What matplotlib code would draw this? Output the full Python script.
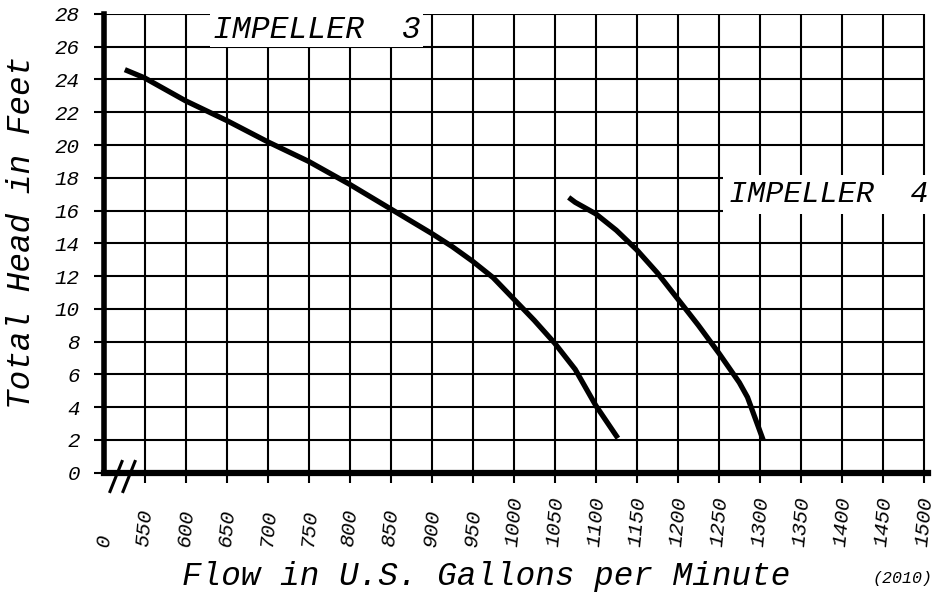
import matplotlib
matplotlib.use("Agg")
import matplotlib.pyplot as plt
import matplotlib.transforms as mtransforms

# Flow (US gpm) and total head (ft)
impeller3_flow = [526, 550, 600, 650, 700, 750, 800, 850, 900, 925, 950, 975, 1000, 1025, 1050, 1075, 1100, 1127]
impeller3_head = [24.6, 24.1, 22.7, 21.5, 20.2, 19.0, 17.6, 16.1, 14.6, 13.8, 12.9, 11.9, 10.6, 9.3, 7.9, 6.3, 4.1, 2.1]

impeller4_flow = [1067, 1075, 1100, 1125, 1150, 1175, 1200, 1225, 1250, 1275, 1285, 1304]
impeller4_head = [16.8, 16.5, 15.8, 14.8, 13.6, 12.2, 10.6, 9.0, 7.3, 5.5, 4.6, 2.0]

flow_ticks = [550, 600, 650, 700, 750, 800, 850, 900, 950, 1000, 1050, 1100,
              1150, 1200, 1250, 1300, 1350, 1400, 1450, 1500]
head_ticks = [0, 2, 4, 6, 8, 10, 12, 14, 16, 18, 20, 22, 24, 26, 28]

FONT = "Liberation Mono"


def main():
    fig = plt.figure(figsize=(9.35, 5.92), dpi=100)
    ax = fig.add_axes([0.1107, 0.2017, 0.8818, 0.7747])
    ax.set_xlim(500, 1505)
    ax.set_ylim(0, 28)

    # grid drawn as explicit lines so it stops at 1500 / 28
    ax.vlines(flow_ticks, 0, 28, color="black", lw=1.5, zorder=1)
    ax.hlines(head_ticks[1:], 500, 1500, color="black", lw=1.5, zorder=1)

    ax.plot(impeller3_flow, impeller3_head, color="black", lw=3.8, solid_capstyle="butt", zorder=3)
    ax.plot(impeller4_flow, impeller4_head, color="black", lw=3.8, solid_capstyle="butt", zorder=3)

    for side in ["top", "right"]:
        ax.spines[side].set_visible(False)
    ax.spines["left"].set_linewidth(4)
    ax.spines["bottom"].set_linewidth(4.5)

    ax.set_yticks(head_ticks)
    ax.set_yticklabels([str(v) for v in head_ticks], fontsize=15, style="italic", family=FONT)
    ax.tick_params(axis="y", length=7, width=1.5, pad=10)
    ax.set_xticks(flow_ticks)
    ax.set_xticklabels([])
    ax.tick_params(axis="x", length=7, width=1.5)

    # rotated flow labels anchored at their start (bottom)
    trans = mtransforms.blended_transform_factory(ax.transData, ax.transAxes)
    for v in [500] + flow_ticks:
        ax.text(v, -0.162, "0" if v == 500 else str(v), transform=trans, rotation=85,
                ha="center", va="bottom", fontsize=15, style="italic", family=FONT,
                clip_on=False)

    # axis break marks (pixel coordinates)
    for x0 in (110, 123):
        fig.add_artist(plt.Line2D([x0, x0 + 12], [592 - 491.5, 592 - 461.5], color="black",
                                  lw=2.2, transform=mtransforms.IdentityTransform()))

    ax.text(633, 27.05, "IMPELLER  3", fontsize=22.7, style="italic", family=FONT,
            va="center", ha="left", zorder=4,
            bbox=dict(facecolor="white", edgecolor="none", pad=2))
    ax.text(1262, 17.0, "IMPELLER  4", fontsize=21.8, style="italic", family=FONT,
            va="center", ha="left", zorder=4, clip_on=False,
            bbox=dict(facecolor="white", edgecolor="none", pad=4))

    fig.text(22 / 935, 1 - 232 / 592, "Total Head in Feet", rotation=90, fontsize=23.5,
             style="italic", family=FONT, ha="center", va="center")
    fig.text(486 / 935, 1 - 577 / 592, "Flow in U.S. Gallons per Minute", fontsize=23.5,
             style="italic", family=FONT, ha="center", va="center")
    fig.text(902 / 935, 1 - 578 / 592, "(2010)", fontsize=12, style="italic",
             family=FONT, ha="center", va="center")

    fig.savefig("out.png", dpi=100)


if __name__ == "__main__":
    main()
